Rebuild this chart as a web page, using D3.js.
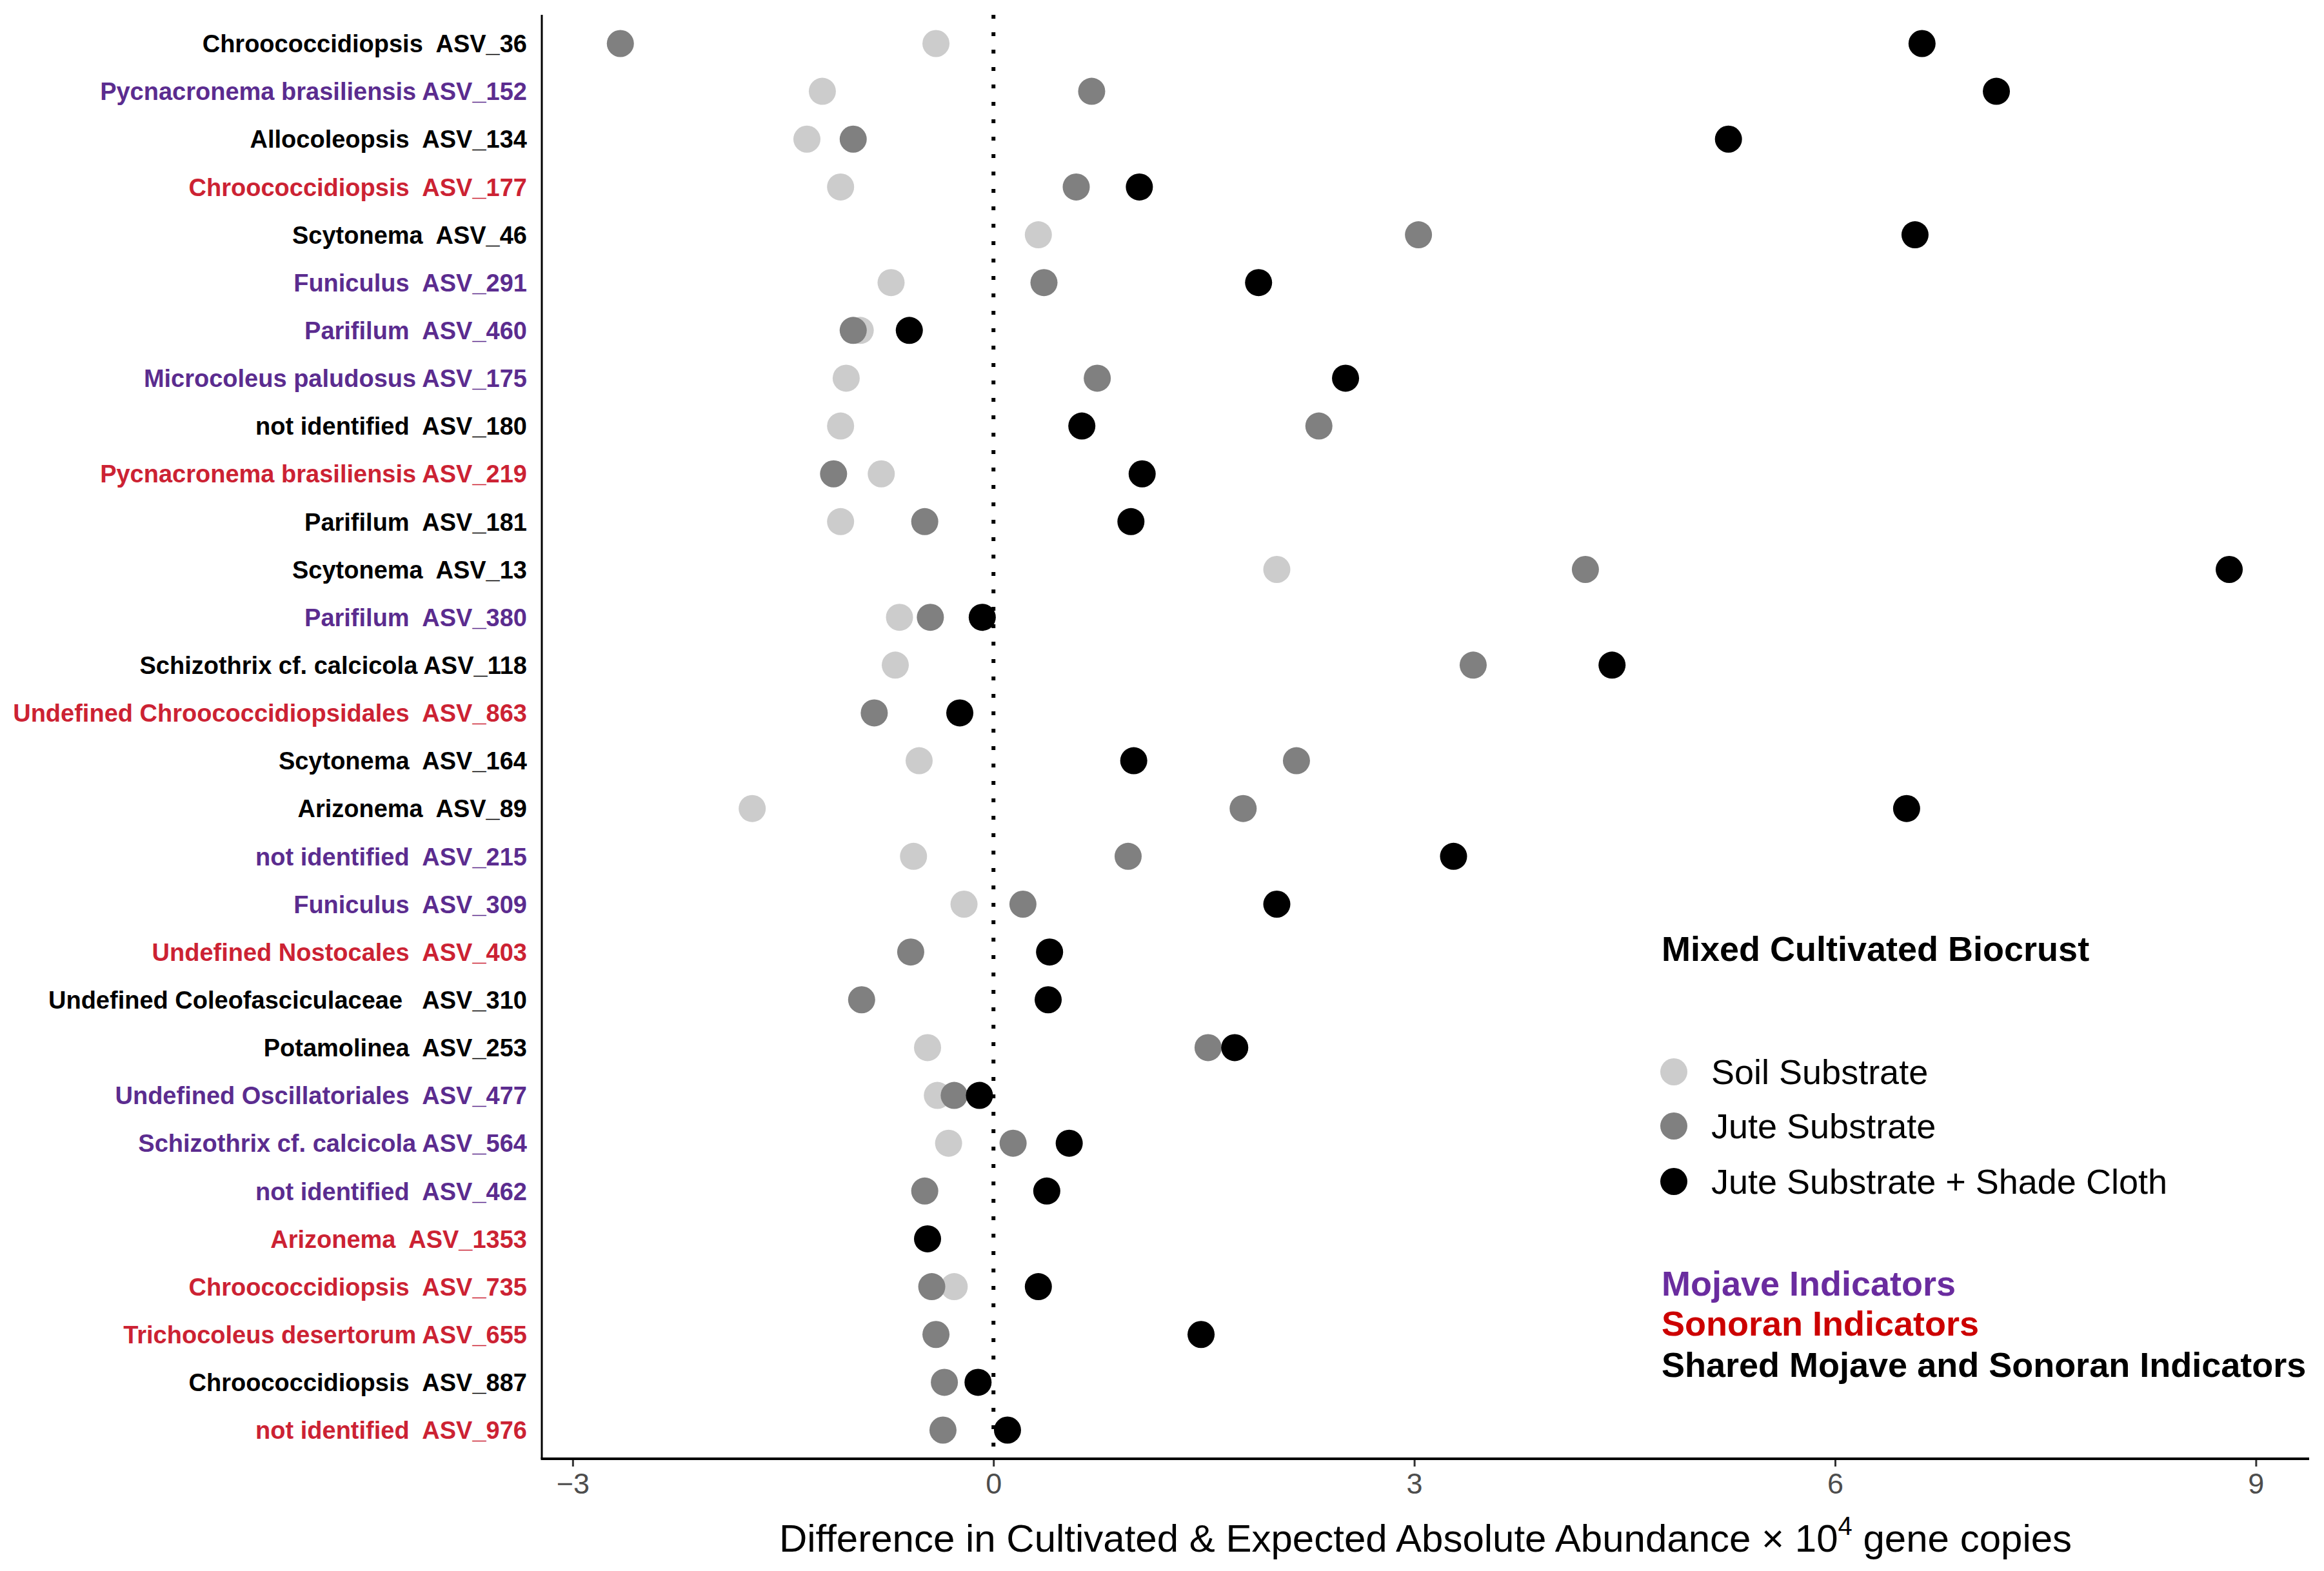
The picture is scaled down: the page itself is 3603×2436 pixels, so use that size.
<html>

<head>
  <title>Mixed Cultivated Biocrust dot plot</title>
  <script type="text/javascript" src="https://cdn.jsdelivr.net/npm/d3@7"></script>
  <style>
    body { margin: 0; background: #fff; }
    text { font-family: "Liberation Sans", Arial, Helvetica, sans-serif; }
  </style>
</head>

<body>
  <script type="text/javascript">
    // Størrelse
    const w = 3603;
    const h = 2436;
    const padLeft = 840, padRight = 3580, padTop = 23, padBottom = 2262;

    // Taxa (top til bund)
    const labels = [
      "Chroococcidiopsis  ASV_36", "Pycnacronema brasiliensis ASV_152", "Allocoleopsis  ASV_134",
      "Chroococcidiopsis  ASV_177", "Scytonema  ASV_46", "Funiculus  ASV_291", "Parifilum  ASV_460",
      "Microcoleus paludosus ASV_175", "not identified  ASV_180", "Pycnacronema brasiliensis ASV_219",
      "Parifilum  ASV_181", "Scytonema  ASV_13", "Parifilum  ASV_380", "Schizothrix cf. calcicola ASV_118",
      "Undefined Chroococcidiopsidales  ASV_863", "Scytonema  ASV_164", "Arizonema  ASV_89",
      "not identified  ASV_215", "Funiculus  ASV_309", "Undefined Nostocales  ASV_403",
      "Undefined Coleofasciculaceae   ASV_310", "Potamolinea  ASV_253", "Undefined Oscillatoriales  ASV_477",
      "Schizothrix cf. calcicola ASV_564", "not identified  ASV_462", "Arizonema  ASV_1353",
      "Chroococcidiopsis  ASV_735", "Trichocoleus desertorum ASV_655", "Chroococcidiopsis  ASV_887",
      "not identified  ASV_976"
    ];
    // M = Mojave, S = Sonoran, B = begge
    const groups = ["B", "M", "B", "S", "B", "M", "M", "M", "B", "S",
      "B", "B", "M", "B", "S", "B", "B", "M", "M", "S",
      "B", "B", "M", "M", "M", "S", "S", "S", "B", "S"];

    // Værdier (x 10^4 gene copies), null = ingen punkt
    const soil = [-0.41, -1.22, -1.33, -1.09, 0.32, -0.73, -0.95, -1.05, -1.09, -0.80,
      -1.09, 2.02, -0.67, -0.70, null, -0.53, -1.72, -0.57, -0.21, null,
      null, -0.47, -0.40, -0.32, null, null, -0.28, null, null, null];
    const jute = [-2.66, 0.70, -1.00, 0.59, 3.03, 0.36, -1.00, 0.74, 2.32, -1.14,
      -0.49, 4.22, -0.45, 3.42, -0.85, 2.16, 1.78, 0.96, 0.21, -0.59,
      -0.94, 1.53, -0.28, 0.14, -0.49, null, -0.44, -0.41, -0.35, -0.36];
    const shade = [6.62, 7.15, 5.24, 1.04, 6.57, 1.89, -0.60, 2.51, 0.63, 1.06,
      0.98, 8.81, -0.08, 4.41, -0.24, 1.00, 6.51, 3.28, 2.02, 0.40,
      0.39, 1.72, -0.10, 0.54, 0.38, -0.47, 0.32, 1.48, -0.11, 0.10];

    const xTicks = [-3, 0, 3, 6, 9];
    const seriesNames = ["Soil Substrate", "Jute Substrate", "Jute Substrate + Shade Cloth"];
    const groupNames = ["Mojave Indicators", "Sonoran Indicators", "Shared Mojave and Sonoran Indicators"];

    const pointColors = ["#cccccc", "#808080", "#000000"];
    const labelColors = { M: "#5b2c8f", S: "#cc2233", B: "#000000" };
    const groupColors = ["#6a2c9f", "#cc0000", "#000000"];

    // Skalaer
    const xScale = d3.scaleLinear().domain([-3.22, 9.38]).range([padLeft, padRight]);
    const yScale = d3.scalePoint().domain(labels).range([padTop, padBottom]).padding(0.6);

    const svg = d3.select("body").append("svg")
      .attr("width", w)
      .attr("height", h);

    // Nul-linje (prikket)
    svg.append("line")
      .attr("x1", xScale(0)).attr("x2", xScale(0))
      .attr("y1", padTop).attr("y2", padBottom)
      .attr("stroke", "#000")
      .attr("stroke-width", 6)
      .attr("stroke-dasharray", "6,21");

    // Punkter
    const series = [soil, jute, shade];
    series.forEach(function (vals, s) {
      svg.append("g").selectAll("circle")
        .data(vals.map(function (v, i) { return { v: v, label: labels[i] }; })
          .filter(function (d) { return d.v !== null; }))
        .enter()
        .append("circle")
        .attr("cx", function (d) { return xScale(d.v); })
        .attr("cy", function (d) { return yScale(d.label); })
        .attr("r", 21)
        .attr("fill", pointColors[s]);
    });

    // Y labels
    svg.append("g").selectAll("text")
      .data(labels)
      .enter()
      .append("text")
      .attr("x", padLeft - 23)
      .attr("y", function (d) { return yScale(d); })
      .attr("dy", "0.36em")
      .attr("text-anchor", "end")
      .style("white-space", "pre")
      .attr("font-size", 38)
      .attr("font-weight", "bold")
      .attr("fill", function (d, i) { return labelColors[groups[i]]; })
      .text(function (d) { return d; });

    // Akser
    svg.append("line")
      .attr("x1", padLeft).attr("x2", padLeft)
      .attr("y1", padTop).attr("y2", padBottom)
      .attr("stroke", "#000").attr("stroke-width", 3);

    const xAxis = d3.axisBottom(xScale)
      .tickValues(xTicks)
      .tickSize(12)
      .tickPadding(10)
      .tickFormat(function (d) { return d < 0 ? "\u2212" + Math.abs(d) : d; });
    const gx = svg.append("g")
      .attr("transform", "translate(0," + padBottom + ")")
      .call(xAxis);
    gx.select(".domain").remove();
    gx.selectAll(".tick line").attr("stroke", "#333").attr("stroke-width", 3);
    gx.selectAll(".tick text")
      .attr("font-size", 45)
      .attr("fill", "#4d4d4d")
      .attr("font-family", "Liberation Sans, Arial, sans-serif");

    svg.append("line")
      .attr("x1", padLeft - 1.5).attr("x2", padRight)
      .attr("y1", padBottom).attr("y2", padBottom)
      .attr("stroke", "#000").attr("stroke-width", 4);

    // Akse-titel
    const title = svg.append("text")
      .attr("x", (padLeft + padRight) / 2)
      .attr("y", 2406)
      .attr("text-anchor", "middle")
      .attr("font-size", 60)
      .attr("fill", "#000");
    title.append("tspan").text("Difference in Cultivated & Expected Absolute Abundance \u00d7 10");
    title.append("tspan").attr("dy", -26).attr("font-size", 40).text("4");
    title.append("tspan").attr("dy", 26).text(" gene copies");

    // Legende
    const lx = 2576;
    svg.append("text")
      .attr("x", lx).attr("y", 1490)
      .attr("font-size", 54).attr("font-weight", "bold")
      .text("Mixed Cultivated Biocrust");

    const legendY = [1662, 1746, 1832];
    const leg = svg.append("g").selectAll("g")
      .data(seriesNames)
      .enter()
      .append("g")
      .attr("transform", function (d, i) { return "translate(0," + legendY[i] + ")"; });
    leg.append("circle")
      .attr("cx", 2595).attr("cy", 0).attr("r", 21)
      .attr("fill", function (d, i) { return pointColors[i]; });
    leg.append("text")
      .attr("x", 2653).attr("y", 0).attr("dy", "0.36em")
      .attr("font-size", 54)
      .text(function (d) { return d; });

    const groupY = [2009, 2071, 2135];
    svg.append("g").selectAll("text")
      .data(groupNames)
      .enter()
      .append("text")
      .attr("x", lx)
      .attr("y", function (d, i) { return groupY[i]; })
      .attr("font-size", 54)
      .attr("font-weight", "bold")
      .attr("fill", function (d, i) { return groupColors[i]; })
      .text(function (d) { return d; });
  </script>
</body>

</html>
